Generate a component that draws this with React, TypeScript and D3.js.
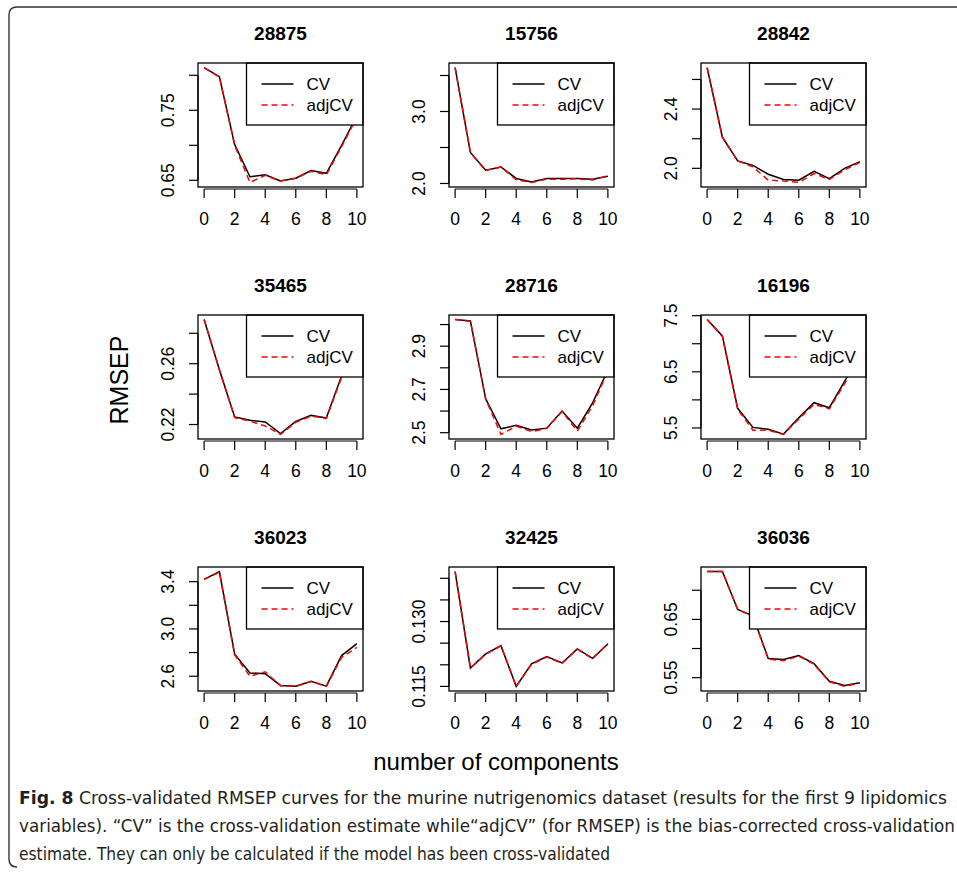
import React from 'react';
import * as d3 from 'd3';

// data
const titles = ['28875', '15756', '28842', '35465', '28716', '16196', '36023', '32425', '36036'];
const components = [0, 1, 2, 3, 4, 5, 6, 7, 8, 9, 10];

const cvValues = [
  [0.811, 0.798, 0.701, 0.655, 0.658, 0.649, 0.653, 0.664, 0.660, 0.700, 0.742],
  [3.61, 2.43, 2.185, 2.23, 2.07, 2.02, 2.07, 2.07, 2.07, 2.06, 2.10],
  [2.68, 2.21, 2.05, 2.02, 1.96, 1.925, 1.92, 1.98, 1.93, 2.00, 2.045],
  [0.289, 0.256, 0.225, 0.2228, 0.2217, 0.214, 0.222, 0.226, 0.2243, 0.252, 0.268],
  [3.023, 3.017, 2.657, 2.518, 2.534, 2.512, 2.521, 2.60, 2.521, 2.638, 2.79],
  [7.43, 7.14, 5.85, 5.51, 5.475, 5.39, 5.68, 5.95, 5.86, 6.33, 6.8],
  [3.419, 3.485, 2.786, 2.628, 2.622, 2.522, 2.516, 2.557, 2.516, 2.775, 2.876],
  [0.14155, 0.11926, 0.1225, 0.12442, 0.115, 0.1202, 0.12188, 0.12042, 0.12366, 0.12148, 0.12481],
  [0.732, 0.732, 0.667, 0.656, 0.583, 0.581, 0.588, 0.574, 0.5437, 0.5367, 0.5414],
];

const adjCvValues = [
  [0.811, 0.797, 0.700, 0.647, 0.657, 0.649, 0.653, 0.663, 0.658, 0.698, 0.740],
  [3.61, 2.43, 2.18, 2.23, 2.05, 2.015, 2.06, 2.06, 2.065, 2.05, 2.11],
  [2.68, 2.21, 2.05, 2.01, 1.92, 1.915, 1.905, 1.965, 1.925, 1.99, 2.04],
  [0.289, 0.256, 0.2245, 0.2222, 0.219, 0.2135, 0.2215, 0.2255, 0.224, 0.251, 0.267],
  [3.023, 3.015, 2.655, 2.492, 2.53, 2.505, 2.52, 2.598, 2.507, 2.625, 2.785],
  [7.43, 7.13, 5.83, 5.46, 5.46, 5.385, 5.66, 5.92, 5.84, 6.29, 6.77],
  [3.419, 3.48, 2.78, 2.60, 2.637, 2.52, 2.514, 2.555, 2.514, 2.76, 2.844],
  [0.14155, 0.1192, 0.1224, 0.1244, 0.115, 0.1201, 0.1218, 0.1203, 0.1236, 0.1214, 0.125],
  [0.732, 0.732, 0.667, 0.655, 0.582, 0.579, 0.587, 0.573, 0.543, 0.535, 0.541],
];

// y ticks per panel, and which of them carry a label (R drops the overlapping ones)
const yTicks = [
  [0.65, 0.70, 0.75, 0.80],
  [2.0, 2.5, 3.0, 3.5],
  [2.0, 2.2, 2.4, 2.6],
  [0.22, 0.24, 0.26, 0.28],
  [2.5, 2.6, 2.7, 2.8, 2.9, 3.0],
  [5.5, 6.0, 6.5, 7.0, 7.5],
  [2.6, 2.8, 3.0, 3.2, 3.4],
  [0.115, 0.120, 0.125, 0.130, 0.135, 0.140],
  [0.55, 0.60, 0.65, 0.70],
];
const yTickLabels = [
  ['0.65', '', '0.75', ''],
  ['2.0', '', '3.0', ''],
  ['2.0', '', '2.4', ''],
  ['0.22', '', '0.26', ''],
  ['2.5', '', '2.7', '', '2.9', ''],
  ['5.5', '', '6.5', '', '7.5'],
  ['2.6', '', '3.0', '', '3.4'],
  ['0.115', '', '', '0.130', '', ''],
  ['0.55', '', '0.65', ''],
];
const xTicks = [0, 2, 4, 6, 8, 10];
const legendLabels = ['CV', 'adjCV'];

const captionLines = [
  ' Cross-validated RMSEP curves for the murine nutrigenomics dataset (results for the first 9 lipidomics',
  'variables). \u201CCV\u201D is the cross-validation estimate while\u201CadjCV\u201D (for RMSEP) is the bias-corrected cross-validation',
  'estimate. They can only be calculated if the model has been cross-validated',
];

const W = 957;
const H = 873;
const colLeft = [198, 449, 701];
const rowTop = [63, 315, 567];
const boxW = 165;
const boxH = 124;
const font = "'Liberation Sans', Arial, Helvetica, sans-serif";

const Panel = ({ idx }: { idx: number }) => {
  const left = colLeft[idx % 3];
  const top = rowTop[Math.floor(idx / 3)];
  const right = left + boxW;
  const bottom = top + boxH;

  // R style axis: data range extended by 4% on each side
  const x = d3.scaleLinear().domain([-0.4, 10.4]).range([left, right]);
  const ext = d3.extent([...cvValues[idx], ...adjCvValues[idx]]) as [number, number];
  const pad = (ext[1] - ext[0]) * 0.04;
  const y = d3.scaleLinear().domain([ext[0] - pad, ext[1] + pad]).range([bottom, top]);

  const line = d3.line<number>()
    .x((_, i) => x(components[i]))
    .y(d => y(d));

  const legLeft = left + 48.5;
  const legH = 62;
  const clipId = `clip-${idx}`;

  return (
    <g>
      <defs>
        <clipPath id={clipId}>
          <rect x={left} y={top} width={boxW} height={boxH} />
        </clipPath>
      </defs>
      <text x={(left + right) / 2} y={top - 23} textAnchor="middle" fontFamily={font}
        fontWeight="bold" fontSize={19}>{titles[idx]}</text>
      <g clipPath={`url(#${clipId})`}>
        <path d={line(cvValues[idx]) || ''} fill="none" stroke="#000" strokeWidth={1.5} />
        <path d={line(adjCvValues[idx]) || ''} fill="none" stroke="#ff0000" strokeWidth={1.5}
          strokeDasharray="6,4" />
      </g>
      {/* legend */}
      <rect x={legLeft} y={top} width={right - legLeft} height={legH} fill="#fff" stroke="#000" strokeWidth={1.3} />
      <line x1={legLeft + 15} x2={legLeft + 47} y1={top + 21} y2={top + 21} stroke="#000" strokeWidth={1.5} />
      <line x1={legLeft + 15} x2={legLeft + 47} y1={top + 42} y2={top + 42} stroke="#ff0000" strokeWidth={1.5}
        strokeDasharray="6,4" />
      {legendLabels.map((l, i) => (
        <text key={l} x={legLeft + 60} y={top + 21 + i * 21} dy="0.35em" fontFamily={font} fontSize={17}>{l}</text>
      ))}
      <rect x={left} y={top} width={boxW} height={boxH} fill="none" stroke="#000" strokeWidth={1.3} />
      {/* x axis */}
      <line x1={x(0)} x2={x(10)} y1={bottom + 2} y2={bottom + 2} stroke="#000" strokeWidth={1.2} />
      {xTicks.map(t => (
        <g key={t}>
          <line x1={x(t)} x2={x(t)} y1={bottom + 2} y2={bottom + 11} stroke="#000" strokeWidth={1.2} />
          <text x={x(t)} y={bottom + 38} textAnchor="middle" fontFamily={font} fontSize={17.5}>{t}</text>
        </g>
      ))}
      {/* y axis */}
      <line x1={left} x2={left} y1={y(yTicks[idx][0])} y2={y(yTicks[idx][yTicks[idx].length - 1])}
        stroke="#000" strokeWidth={1.2} />
      {yTicks[idx].map((t, i) => (
        <g key={t}>
          <line x1={left} x2={left - 9} y1={y(t)} y2={y(t)} stroke="#000" strokeWidth={1.2} />
          {yTickLabels[idx][i] && (
            <text transform={`translate(${left - 24},${y(t)}) rotate(-90)`} textAnchor="middle"
              fontFamily={font} fontSize={17.5}>{yTickLabels[idx][i]}</text>
          )}
        </g>
      ))}
    </g>
  );
};

export default function App() {
  return (
    <svg width={W} height={H} style={{ position: 'absolute', left: 0, top: 0, background: '#fff' }}>
      <rect width={W} height={H} fill="#fff" />
      {/* figure frame */}
      <path d={`M${W},7 H17 Q9,7 9,15 V859 Q9,867 17,867`} fill="none" stroke="#333" strokeWidth={1.4} />
      {titles.map((_, i) => <Panel key={i} idx={i} />)}
      <text transform="translate(128,380) rotate(-90)" textAnchor="middle" fontFamily={font} fontSize={25}>RMSEP</text>
      <text x={496} y={770} textAnchor="middle" fontFamily={font} fontSize={24}>number of components</text>
      <g fontFamily="'Liberation Sans Narrow', 'DejaVu Sans Condensed', 'Open Sans', sans-serif" fontSize={18.5} fill="#231f20">
        <text x={19} y={804} textLength={928} lengthAdjust="spacingAndGlyphs">
          <tspan fontWeight="bold">Fig. 8</tspan>
          <tspan>{captionLines[0]}</tspan>
        </text>
        <text x={19} y={832} textLength={936} lengthAdjust="spacingAndGlyphs">{captionLines[1]}</text>
        <text x={19} y={860} textLength={591} lengthAdjust="spacingAndGlyphs">{captionLines[2]}</text>
      </g>
    </svg>
  );
}
